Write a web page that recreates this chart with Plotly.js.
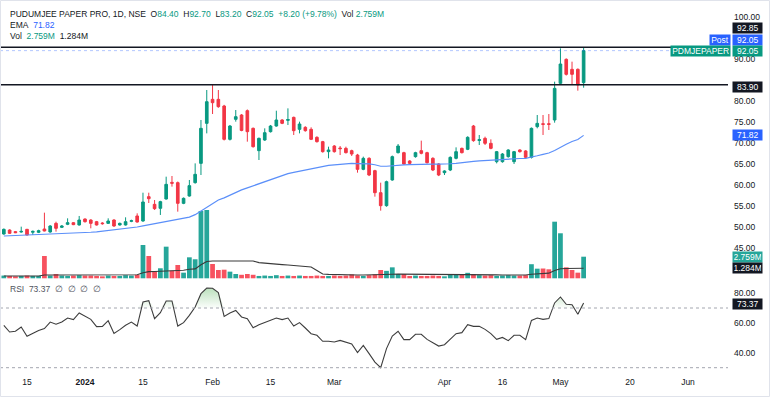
<!DOCTYPE html>
<html><head><meta charset="utf-8">
<script src="https://cdn.plot.ly/plotly-3.0.1.min.js"></script>
<style>html,body{margin:0;padding:0;background:#fff;}#chart{width:770px;height:397px;}</style>
</head><body><div id="chart"></div>
<script>
// ---- data (one value per daily candle, Dec 11 2023 .. May 8 2024) ----
const open = [48.28,49.23,48.84,48.75,49.39,48.70,48.68,49.47,48.76,50.82,
 49.87,50.59,50.98,50.43,51.86,51.62,51.22,50.90,50.82,51.62,
 50.43,50.43,51.30,52.58,51.38,57.19,55.36,54.41,56.63,60.60,
 60.53,55.60,57.35,60.53,65.14,74.69,80.42,80.42,78.83,70.87,
 75.65,76.68,77.71,73.50,68.17,70.71,72.70,74.05,75.49,75.40,
 76.12,73.26,73.74,73.26,71.35,70.32,67.93,69.28,68.80,68.72,
 68.17,67.13,63.71,66.34,63.40,58.14,55.04,61.17,67.69,67.69,
 65.70,66.74,68.17,67.69,66.34,64.99,62.92,63.55,66.34,68.72,
 68.49,74.05,70.60,71.11,69.92,65.54,65.54,66.74,65.54,68.33,
 68.10,66.58,73.90,74.60,74.60,75.49,84.24,89.97,87.58,87.58,
 84.40];
const high = [49.60,49.40,49.00,50.03,49.50,49.10,49.30,53.37,50.40,51.22,
 50.40,52.02,51.10,52.58,52.00,51.80,51.40,51.10,52.02,51.80,
 51.00,52.26,51.70,53.21,58.14,58.14,56.39,56.20,61.96,62.12,
 60.80,57.00,61.17,65.14,75.49,82.65,83.90,82.65,79.10,74.30,
 77.87,76.90,78.00,73.70,71.30,73.50,74.30,77.71,75.70,78.27,
 76.30,75.09,74.00,73.74,71.60,70.50,69.12,69.50,69.28,69.12,
 68.40,67.40,66.74,66.60,63.60,60.53,61.00,67.00,69.76,67.90,
 65.90,67.90,70.56,67.90,66.60,65.20,63.50,66.80,68.96,68.90,
 71.60,74.30,71.91,71.51,70.87,68.10,67.60,68.50,68.10,68.50,
 68.30,73.70,76.68,76.68,76.92,84.64,92.59,90.20,89.41,87.80,
 92.70];
const low = [48.10,48.30,48.50,48.60,47.90,48.04,48.50,48.90,48.60,48.84,
 49.70,50.40,50.40,50.30,51.00,49.63,50.30,50.50,50.70,50.00,
 50.30,50.30,51.10,51.00,51.20,55.68,54.01,52.82,56.50,59.58,
 53.61,55.40,57.20,60.30,62.36,72.30,76.92,78.40,70.60,70.60,
 75.09,72.80,70.32,68.90,65.94,70.50,72.50,73.90,74.50,74.29,
 71.91,72.30,72.70,70.70,70.10,67.70,66.34,67.70,67.13,67.50,
 66.90,62.92,63.50,62.10,57.19,53.85,54.80,61.00,67.50,64.80,
 64.90,66.50,67.30,65.10,63.30,62.10,62.36,63.30,66.10,67.50,
 68.30,70.30,69.52,69.52,68.50,65.14,65.30,66.50,64.99,67.70,
 66.30,66.30,73.50,71.91,73.10,74.85,83.84,86.10,84.08,82.49,
 83.20];
const close = [49.39,48.44,48.60,48.90,48.04,48.90,49.07,49.00,50.19,49.63,
 50.19,50.98,50.51,51.62,51.22,50.82,50.43,50.75,51.38,50.19,
 50.82,51.22,51.45,51.14,55.92,56.71,54.33,56.00,60.13,60.40,
 55.60,56.79,59.82,62.52,73.50,79.86,79.62,78.67,70.87,74.05,
 76.28,73.00,72.70,69.12,71.11,72.46,74.05,75.49,74.69,75.60,
 72.94,74.53,72.94,70.87,70.32,67.93,68.33,67.93,68.65,67.69,
 67.37,63.71,66.34,62.36,58.14,55.04,60.77,66.74,69.28,64.99,
 65.14,67.69,67.53,65.30,63.55,62.36,63.32,66.58,67.93,67.69,
 71.35,70.56,70.80,69.92,68.72,67.93,67.37,68.33,67.93,67.93,
 66.58,73.50,74.69,74.45,74.45,83.04,88.85,86.39,86.39,83.85,
 92.05];
const volume = [0.35,0.30,0.25,0.30,0.35,0.30,0.30,2.85,0.35,0.55,
 0.35,0.30,0.35,0.40,0.35,0.35,0.30,0.25,0.35,0.30,
 0.30,0.40,0.35,0.45,4.25,2.85,0.85,1.28,4.04,0.97,
 1.70,0.72,2.68,2.43,8.60,8.72,1.83,1.06,1.10,0.85,
 0.55,0.45,0.55,0.45,0.30,0.35,0.30,0.40,0.30,0.35,
 0.30,0.35,0.30,0.30,0.35,0.30,0.30,0.35,0.30,0.35,
 0.50,0.35,0.30,0.40,0.50,1.06,0.95,1.40,0.55,0.55,
 0.30,0.35,0.30,0.30,0.35,0.30,0.25,0.45,0.50,0.55,
 0.70,0.55,0.40,0.35,0.40,0.30,0.35,0.40,0.35,0.35,
 0.40,1.80,1.23,1.25,1.15,7.23,5.75,1.40,1.06,0.72,
 2.759];
const volumeMA = [0.30,0.30,0.30,0.30,0.30,0.30,0.30,0.42,0.42,0.43,
 0.43,0.43,0.43,0.43,0.43,0.43,0.43,0.43,0.43,0.43,
 0.43,0.43,0.44,0.45,0.70,0.85,0.86,0.88,0.97,0.98,
 1.02,1.03,1.15,1.20,1.72,2.15,2.20,2.20,2.20,2.20,
 2.20,2.20,2.20,2.20,2.00,1.92,1.90,1.85,1.75,1.70,
 1.65,1.60,1.55,1.45,1.00,0.55,0.50,0.47,0.45,0.44,
 0.44,0.43,0.43,0.43,0.43,0.45,0.48,0.52,0.53,0.53,
 0.52,0.52,0.50,0.50,0.50,0.48,0.47,0.47,0.47,0.46,
 0.46,0.46,0.45,0.45,0.45,0.44,0.43,0.43,0.42,0.42,
 0.42,0.52,0.57,0.62,0.66,1.00,1.22,1.25,1.26,1.26,
 1.284];
const ema = [47.80,47.85,47.90,47.95,48.00,48.05,48.10,48.15,48.20,48.28,
 48.35,48.42,48.50,48.57,48.63,48.70,48.80,48.95,49.10,49.25,
 49.40,49.55,49.75,49.95,50.20,50.45,50.65,50.90,51.20,51.50,
 51.75,52.00,52.30,52.90,53.80,54.80,55.70,56.40,56.90,57.60,
 58.30,58.80,59.30,59.80,60.30,60.80,61.30,61.80,62.20,62.70,
 63.00,63.30,63.60,63.90,64.20,64.45,64.65,64.80,64.95,65.05,
 65.12,65.10,65.10,65.00,64.80,64.45,64.45,64.60,64.80,64.80,
 64.85,64.90,65.00,65.00,64.95,64.95,64.95,65.05,65.15,65.25,
 65.45,65.60,65.75,65.85,65.95,66.00,66.05,66.15,66.20,66.30,
 66.35,66.60,66.95,67.30,67.60,68.20,69.00,69.70,70.35,70.85,
 71.82];
const rsi = [58.4,53.9,54.4,57.3,51.0,52.8,55.0,56.2,60.6,59.1,
 60.6,63.3,62.2,66.7,64.6,62.4,57.5,57.7,61.5,53.0,
 55.5,58.4,60.6,57.9,74.0,74.9,62.9,66.9,74.7,74.7,
 57.9,60.2,65.1,70.7,79.6,83.4,83.2,80.3,64.4,66.7,
 68.4,64.0,62.9,56.8,58.8,60.2,61.7,63.3,62.2,63.3,
 57.9,60.2,56.6,52.8,51.7,47.7,47.7,47.2,48.3,47.2,
 45.9,40.1,45.0,39.4,33.8,30.0,42.8,51.2,54.4,48.8,
 48.8,52.4,52.4,49.0,46.5,44.5,45.4,49.4,52.8,53.5,
 58.8,57.7,57.7,55.7,52.8,49.0,50.3,48.1,51.7,51.7,
 48.8,61.7,63.3,62.4,62.9,73.4,77.4,72.5,72.2,65.8,
 73.37];
// x-axis ticks (positions in trading-day index; future dates on business days)
const tickPos  = [4, 14, 24, 36, 46, 57, 76, 86, 96, 108, 118];
const tickText = ['15', '<b>2024</b>', '15', 'Feb', '15', 'Mar', 'Apr', '16', 'May', '20', 'Jun'];
// price scale labels left visible in the reference (95 and 85 are covered by the tags)
const priceTicks = [45, 50, 55, 60, 65, 70, 75, 80, 90, 100];
const rsiTicks = [40, 60, 80];
const resistance = 92.85, support = 83.90, postPrice = 92.05;
const rsiUpper = 70, rsiLower = 30;

// ---- drawing ----
const F = 'Liberation Sans, Arial, sans-serif';
const GREEN = '#089981', RED = '#f23645', BLUE = '#2962ff', DARK = '#131722';
const PW = 728, PH = 375;
const px = x => x / PW, py = y => (PH - y) / PH;
const n = close.length, last = n - 1;
const idx = close.map((_, i) => i);
const up = idx.map(i => close[i] >= open[i]);

const traces = [
  { type: 'bar', x: idx, y: volume, xaxis: 'x', yaxis: 'y', width: 0.82,
    marker: { color: up.map(u => u ? '#26a69a' : '#f7525f'), line: { width: 0 } }, hoverinfo: 'skip' },
  { type: 'scatter', mode: 'lines', x: idx, y: volumeMA, xaxis: 'x', yaxis: 'y',
    line: { color: '#3a3a3a', width: 1.1 }, hoverinfo: 'skip' },
  { type: 'scatter', mode: 'lines', x: idx, y: ema, xaxis: 'x', yaxis: 'y2',
    line: { color: '#5b8ff9', width: 1.2 }, hoverinfo: 'skip' },
  { type: 'candlestick', x: idx, open: open, high: high, low: low, close: close,
    xaxis: 'x', yaxis: 'y2', whiskerwidth: 0,
    increasing: { line: { color: GREEN, width: 1 }, fillcolor: GREEN },
    decreasing: { line: { color: RED, width: 1 }, fillcolor: RED }, hoverinfo: 'skip' },
  { type: 'scatter', mode: 'lines', x: idx, y: idx.map(() => rsiUpper), xaxis: 'x', yaxis: 'y3',
    line: { width: 0, color: 'rgba(0,0,0,0)' }, hoverinfo: 'skip' },
  { type: 'scatter', mode: 'lines', x: idx, y: rsi.map(v => Math.max(v, rsiUpper)), xaxis: 'x', yaxis: 'y3',
    line: { width: 0, color: 'rgba(0,0,0,0)' }, fill: 'tonexty', fillcolor: 'rgba(76,175,80,0.25)',
    fillgradient: { type: 'vertical', start: rsiUpper, stop: 86,
      colorscale: [[0, 'rgba(76,175,80,0.02)'], [1, 'rgba(76,175,80,0.45)']] }, hoverinfo: 'skip' },
  { type: 'scatter', mode: 'lines', x: idx, y: rsi, xaxis: 'x', yaxis: 'y3',
    line: { color: '#3d3d3d', width: 1.1 }, hoverinfo: 'skip' }
];

const tickFont = { family: F, size: 8.5, color: DARK };
const layout = {
  width: 770, height: 397, margin: { l: 0, r: 42, t: 0, b: 22 },
  paper_bgcolor: '#fff', plot_bgcolor: '#fff', showlegend: false, boxgap: 0.35,
  font: { family: F, size: 8.5, color: DARK },
  xaxis: { range: [-0.66, 124.9], anchor: 'y3', tickmode: 'array', tickvals: tickPos, ticktext: tickText,
    showgrid: false, zeroline: false, showline: false, ticks: '', tickfont: tickFont,
    rangeslider: { visible: false }, fixedrange: true },
  yaxis: { domain: [0.25333, 1], range: [-0.217, 35.54], visible: false, fixedrange: true },
  yaxis2: { overlaying: 'y', side: 'right', range: [37.30, 104.13], tickmode: 'array', tickvals: priceTicks,
    tickformat: '.2f', showgrid: false, zeroline: false, showline: false, ticks: '', tickfont: tickFont,
    ticklabelstandoff: 5, fixedrange: true },
  yaxis3: { domain: [0, 0.2453], range: [25.11, 86.75], side: 'right', tickmode: 'array', tickvals: rsiTicks,
    tickformat: '.2f', showgrid: false, zeroline: false, showline: false, ticks: '', tickfont: tickFont,
    ticklabelstandoff: 5, fixedrange: true },
  shapes: [
    { type: 'line', xref: 'paper', yref: 'y2', x0: 0, x1: 1, y0: postPrice, y1: postPrice,
      line: { color: 'rgba(41,98,255,0.35)', width: 1, dash: 'dot' } },
    { type: 'line', xref: 'paper', yref: 'y2', x0: 0, x1: 1, y0: resistance, y1: resistance,
      line: { color: DARK, width: 1.5 } },
    { type: 'line', xref: 'paper', yref: 'y2', x0: 0, x1: 1, y0: support, y1: support,
      line: { color: DARK, width: 1.5 } },
    { type: 'line', xref: 'paper', yref: 'y3', x0: 0, x1: 1, y0: rsiUpper, y1: rsiUpper,
      line: { color: '#a3a6af', width: 1, dash: '3px,3px' } },
    { type: 'line', xref: 'paper', yref: 'y3', x0: 0, x1: 1, y0: rsiLower, y1: rsiLower,
      line: { color: '#a3a6af', width: 1, dash: '3px,3px' } },
    { type: 'rect', xref: 'paper', yref: 'paper', x0: px(0.5), x1: px(769.5), y0: py(396.5), y1: py(0.5),
      line: { color: '#e0e3eb', width: 1 } }
  ],
  annotations: []
};

const A = layout.annotations;
const g = t => `<span style="color:${GREEN}">${t}</span>`;
const chg = close[last] - close[last - 1];
const pct = chg / close[last - 1] * 100;
const sp = '\u00a0\u00a0';
A.push({ xref: 'paper', yref: 'paper', x: px(8), y: py(14), xanchor: 'left', yanchor: 'middle', showarrow: false,
  font: { family: F, size: 8.5, color: DARK },
  text: 'PUDUMJEE PAPER PRO, 1D, NSE' + sp + 'O' + g(open[last].toFixed(2)) + sp + 'H' + g(high[last].toFixed(2)) + sp +
    'L' + g(low[last].toFixed(2)) + sp + 'C' + g(close[last].toFixed(2)) + sp +
    g('+' + chg.toFixed(2) + ' (+' + pct.toFixed(2) + '%)') + sp + 'Vol\u00a0' + g(volume[last].toFixed(3) + 'M') });
A.push({ xref: 'paper', yref: 'paper', x: px(8), y: py(25), xanchor: 'left', yanchor: 'middle', showarrow: false,
  font: { family: F, size: 8.5, color: DARK },
  text: 'EMA' + sp + `<span style="color:${BLUE}">${ema[last].toFixed(2)}</span>` });
A.push({ xref: 'paper', yref: 'paper', x: px(8), y: py(36), xanchor: 'left', yanchor: 'middle', showarrow: false,
  font: { family: F, size: 8.5, color: DARK },
  text: 'Vol' + sp + g(volume[last].toFixed(3) + 'M') + sp + volumeMA[last].toFixed(3) + 'M' });
A.push({ xref: 'paper', yref: 'paper', x: px(8), y: py(289), xanchor: 'left', yanchor: 'middle', showarrow: false,
  font: { family: F, size: 8.5, color: '#50535e' },
  text: 'RSI' + sp + rsi[last].toFixed(2) + sp + '\u2205' + sp + '\u2205' + sp + '\u2205' + sp + '\u2205' });

function valTag(text, yPx, bg) {
  A.push({ xref: 'paper', yref: 'paper', x: px(732), y: py(yPx), xanchor: 'left', yanchor: 'middle',
    showarrow: false, text: text, bgcolor: bg, borderpad: 1.2, width: 27, height: 8, align: 'center',
    font: { family: F, size: 8.5, color: '#fff' } });
}
function nameTag(text, yPx, bg) {
  A.push({ xref: 'paper', yref: 'paper', x: px(731), y: py(yPx), xanchor: 'right', yanchor: 'middle',
    showarrow: false, text: text, bgcolor: bg, borderpad: 1.2, height: 8,
    font: { family: F, size: 8.5, color: '#fff' } });
}
valTag(resistance.toFixed(2), 27.5, DARK);
nameTag('Post', 40, BLUE); valTag(postPrice.toFixed(2), 40, BLUE);
nameTag('PDMJEPAPER', 51.5, GREEN); valTag(close[last].toFixed(2), 51.5, GREEN);
valTag(support.toFixed(2), 86.5, DARK);
valTag(ema[last].toFixed(2), 135.5, BLUE);
valTag(volume[last].toFixed(3) + 'M', 256.5, '#26a69a');
valTag(volumeMA[last].toFixed(3) + 'M', 268, DARK);
valTag(rsi[last].toFixed(2), 303.5, DARK);

Plotly.newPlot('chart', traces, layout, { displayModeBar: false, staticPlot: true });
</script></body></html>
